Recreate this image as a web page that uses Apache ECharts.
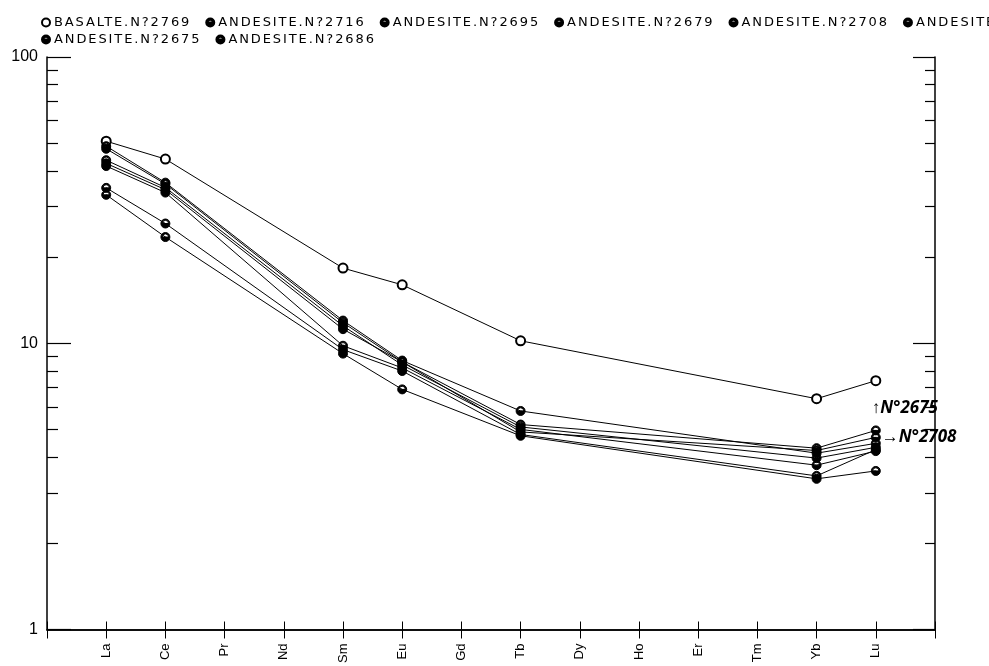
<!DOCTYPE html>
<html>
<head>
<meta charset="utf-8">
<script src="https://cdn.jsdelivr.net/npm/echarts@6/dist/echarts.min.js"></script>
<style>
html,body{margin:0;padding:0;background:#fff;}
#chart{width:989px;height:666px;}
</style>
</head>
<body>
<div id="chart"></div>
<script>
// Rare earth element order (x axis), 1-based positions
const elements = ['La','Ce','Pr','Nd','Sm','Eu','Gd','Tb','Dy','Ho','Er','Tm','Yb','Lu'];
// Elements actually analysed
const measured = ['La','Ce','Sm','Eu','Tb','Yb','Lu'];

// Series names (legend)
const namesLine1 = ['BASALTE.N?2769','ANDESITE.N?2716','ANDESITE.N?2695','ANDESITE.N?2679','ANDESITE.N?2708','ANDESITE.N?2692'];
const namesLine2 = ['ANDESITE.N?2675','ANDESITE.N?2686'];

// Chondrite-normalised values for La, Ce, Sm, Eu, Tb, Yb, Lu
const basalte2769  = [50.8, 44.0, 18.3, 16.0, 10.2, 6.4, 7.4];
const andesite2716 = [48.8, 36.4, 12.0, 8.7, 5.8, 4.13, 4.47];
const andesite2695 = [43.6, 35.0, 11.5, 8.4, 5.1, 3.97, 4.33];
const andesite2679 = [41.6, 33.6, 9.8, 8.2, 5.0, 3.75, 4.20];
const andesite2708 = [42.5, 34.4, 11.2, 8.6, 4.9, 4.22, 4.69];
const andesite2692 = [34.9, 26.2, 9.5, 8.0, 4.8, 3.44, 4.25];
const andesite2675 = [47.8, 36.0, 11.8, 8.6, 5.2, 4.30, 4.96];
const andesite2686 = [33.0, 23.5, 9.2, 6.9, 4.75, 3.36, 3.58];

const seriesValues = [basalte2769, andesite2716, andesite2695, andesite2679, andesite2708, andesite2692, andesite2675, andesite2686];
const allNames = namesLine1.concat(namesLine2);

// Y axis minor tick values
const yMinorTicks = [2,3,4,5,6,7,8,9,20,30,40,50,60,70,80,90];

// Wide plotter-style lettering for the legend text (DejaVu Sans only)
(function () {
  const P = CanvasRenderingContext2D.prototype;
  const fill = P.fillText, measure = P.measureText;
  function apply(ctx) {
    if ('letterSpacing' in ctx) ctx.letterSpacing = /DejaVu Sans/.test(ctx.font) ? '1.9px' : '0px';
  }
  P.fillText = function () { apply(this); return fill.apply(this, arguments); };
  P.measureText = function () { apply(this); return measure.apply(this, arguments); };
})();

const halfCircle = 'path://M0,-10 A10,10 0 1,1 0,10 A10,10 0 1,1 0,-10 Z M0,-7 A7,7 0 1,0 0,7 A7,7 0 1,0 0,-7 Z M-7,0 A7,7 0 0,0 7,0 Z';

const annotations = {
  'ANDESITE.N?2675': {text: '↑N°2675', position: [1, -26]},
  'ANDESITE.N?2708': {text: '→N°2708', position: 'right'}
};

const series = allNames.map((name, s) => {
  const vals = seriesValues[s];
  const ann = annotations[name];
  const data = measured.map((el, i) => {
    const item = {value: [elements.indexOf(el) + 1, vals[i]]};
    if (ann && i === measured.length - 1) {
      item.label = {
        show: true, formatter: ann.text, position: ann.position, distance: 1,
        color: '#000', fontFamily: 'Noto Sans', fontStyle: 'italic', fontWeight: 'bold', fontSize: 17
      };
    }
    return item;
  });
  return {
    name: name,
    type: 'line',
    xAxisIndex: 0,
    yAxisIndex: 0,
    data: data,
    symbol: s === 0 ? 'emptyCircle' : halfCircle,
    symbolSize: 9,
    showAllSymbol: true,
    lineStyle: {color: '#000', width: 1},
    itemStyle: {color: '#000', borderColor: '#000', borderWidth: 1},
    emphasis: {disabled: true},
    animation: false,
    z: 3
  };
});

const axisLine = {show: true, lineStyle: {color: '#000', width: 1.5}};
const fontBase = 'Liberation Sans';

const legendCommon = {
  orient: 'horizontal',
  left: 41,
  width: 2000,
  itemWidth: 10,
  itemHeight: 10,
  itemGap: 14,
  padding: 0,
  selectedMode: false,
  lineStyle: {width: 0, opacity: 0},
  textStyle: {color: '#000', fontFamily: 'DejaVu Sans', fontSize: 13, padding: [0, 0, 0, -2]}
};

const option = {
  backgroundColor: '#fff',
  animation: false,
  legend: [
    Object.assign({}, legendCommon, {top: 15, data: namesLine1}),
    Object.assign({}, legendCommon, {top: 32, data: namesLine2})
  ],
  grid: {left: 47, right: 54, top: 57, bottom: 30, containLabel: false},
  xAxis: [
    {
      type: 'value', position: 'bottom', min: 0, max: 15, interval: 1,
      axisLine: axisLine,
      axisTick: {show: true, inside: true, length: 8, lineStyle: {color: '#000', width: 1}},
      splitLine: {show: false},
      axisLabel: {
        show: true, rotate: 90, margin: 14, color: '#000', fontFamily: fontBase, fontSize: 13,
        formatter: v => (v >= 1 && v <= elements.length) ? elements[v - 1] : ''
      }
    },
    {
      type: 'value', position: 'top', min: 0, max: 15, interval: 1,
      axisLine: axisLine,
      axisTick: {show: true, inside: true, length: 9, lineStyle: {color: '#000', width: 1}},
      splitLine: {show: false},
      axisLabel: {show: false}
    }
  ],
  yAxis: [
    {
      type: 'log', logBase: 10, min: 1, max: 100, position: 'left',
      axisLine: axisLine,
      axisTick: {show: true, inside: true, length: 24, lineStyle: {color: '#000', width: 1.2}},
      splitLine: {show: false},
      minorTick: {show: false},
      axisLabel: {show: true, color: '#000', fontFamily: fontBase, fontSize: 16, margin: 9}
    },
    {
      type: 'value', min: 0, max: 2, position: 'left',
      axisLine: {show: false},
      axisTick: {show: true, inside: true, length: 11, customValues: yMinorTicks.map(v => Math.log10(v)), lineStyle: {color: '#000', width: 1.2}},
      splitLine: {show: false},
      axisLabel: {show: false}
    },
    {
      type: 'log', logBase: 10, min: 1, max: 100, position: 'right',
      axisLine: axisLine,
      axisTick: {show: true, inside: true, length: 22, lineStyle: {color: '#000', width: 1.2}},
      splitLine: {show: false},
      axisLabel: {show: false}
    },
    {
      type: 'value', min: 0, max: 2, position: 'right',
      axisLine: {show: false},
      axisTick: {show: true, inside: true, length: 10, customValues: yMinorTicks.map(v => Math.log10(v)), lineStyle: {color: '#000', width: 1.2}},
      splitLine: {show: false},
      axisLabel: {show: false}
    }
  ],
  series: series
};

const chart = echarts.init(document.getElementById('chart'), null, {renderer: 'canvas'});
chart.setOption(option);
</script>
</body>
</html>
